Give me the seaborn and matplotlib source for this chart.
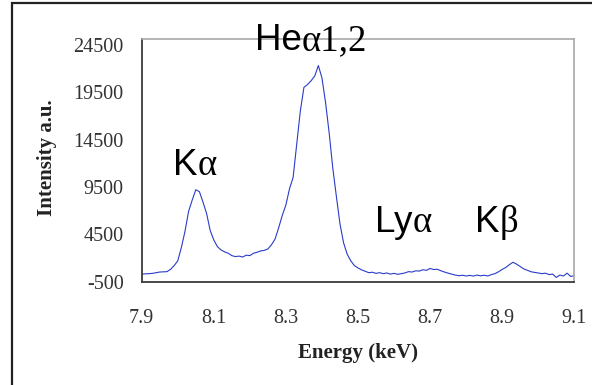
import numpy as np
import pandas as pd
import seaborn as sns
import matplotlib.pyplot as plt
from matplotlib.patches import Rectangle

# spectrum (keV, counts)
energy = [7.90, 7.91, 7.92, 7.93, 7.94, 7.95, 7.96, 7.97, 7.98, 7.99,
          8.00, 8.01, 8.02, 8.03, 8.04, 8.05, 8.06, 8.07, 8.08, 8.09,
          8.10, 8.11, 8.12, 8.13, 8.14, 8.15, 8.16, 8.17, 8.18, 8.19,
          8.20, 8.21, 8.22, 8.23, 8.24, 8.25, 8.26, 8.27, 8.28, 8.29,
          8.30, 8.31, 8.32, 8.33, 8.34, 8.35, 8.36, 8.37, 8.38, 8.39,
          8.40, 8.41, 8.42, 8.43, 8.44, 8.45, 8.46, 8.47, 8.48, 8.49,
          8.50, 8.51, 8.52, 8.53, 8.54, 8.55, 8.56, 8.57, 8.58, 8.59,
          8.60, 8.61, 8.62, 8.63, 8.64, 8.65, 8.66, 8.67, 8.68, 8.69,
          8.70, 8.71, 8.72, 8.73, 8.74, 8.75, 8.76, 8.77, 8.78, 8.79,
          8.80, 8.81, 8.82, 8.83, 8.84, 8.85, 8.86, 8.87, 8.88, 8.89,
          8.90, 8.91, 8.92, 8.93, 8.94, 8.95, 8.96, 8.97, 8.98, 8.99,
          9.00, 9.01, 9.02, 9.03, 9.04, 9.05, 9.06, 9.07, 9.08, 9.09,
          9.10]
intensity = [300, 330, 350, 380, 450, 520, 540, 560, 800, 1200,
             1700, 3100, 4800, 6900, 8100, 9200, 9000, 7900, 6700, 4900,
             3900, 3200, 2850, 2650, 2500, 2250, 2150, 2200, 2100, 2300,
             2250, 2500, 2600, 2750, 2800, 2950, 3400, 4000, 5200, 6500,
             7600, 9300, 10500, 14000, 17500, 20000, 20300, 20700, 21200, 22300,
             21000, 18400, 15200, 11500, 8500, 5600, 3600, 2400, 1700, 1200,
             950, 750, 600, 450, 500, 380, 450, 350, 420, 300,
             380, 280, 350, 420, 560, 520, 650, 620, 760, 700,
             900, 780, 820, 650, 520, 400, 300, 200, 130, 180,
             100, 170, 90, 200, 120, 180, 100, 250, 350, 550,
             800, 1000, 1300, 1550, 1350, 1100, 850, 700, 550, 480,
             420, 350, 400, 250, 300, -50, 200, 100, 400, 50,
             150]

xticks = [7.9, 8.1, 8.3, 8.5, 8.7, 8.9, 9.1]
xticklabels = ['7.9', '8.1', '8.3', '8.5', '8.7', '8.9', '9.1']
yticks = [-500, 4500, 9500, 14500, 19500, 24500]
yticklabels = ['-500', '4500', '9500', '14500', '19500', '24500']

df = pd.DataFrame({'Energy': energy, 'Intensity': intensity})

sns.set_style('white')
plt.rcParams['font.family'] = ['Liberation Serif', 'DejaVu Serif']

W, H = 592, 385
fig = plt.figure(figsize=(W / 100, H / 100), dpi=100)
ax = fig.add_axes([141.7 / W, 1 - 281.7 / H, 432.6 / W, 242.4 / H])

sns.lineplot(data=df, x='Energy', y='Intensity', ax=ax, color='#2a3cc8', lw=0.8)

ax.set_xlim(7.9, 9.1)
ax.set_ylim(-500, 25070)
ax.set_xticks(xticks)
ax.set_xticklabels(xticklabels)
ax.set_yticks(yticks)
ax.set_yticklabels(yticklabels)
ax.tick_params(axis='both', direction='out', color='#333333', labelcolor='#333333',
               labelsize=14.5, width=1)
ax.tick_params(axis='x', length=5, pad=15)
ax.tick_params(axis='y', length=6, pad=7)

for s in ['left', 'bottom']:
    ax.spines[s].set_color('#3a3a3a')
    ax.spines[s].set_linewidth(1.3)
for s in ['top', 'right']:
    ax.spines[s].set_color('#a8a8a8')
    ax.spines[s].set_linewidth(1.2)

ax.set_xlabel('Energy (keV)', fontsize=15, fontweight='bold', color='#222222', va='center')
ax.set_ylabel('Intensity a.u.', fontsize=15, fontweight='bold', color='#222222',
              va='center', ha='center')
ax.xaxis.set_label_coords(0.5, -(353 - 281.7) / 242.4)
ax.yaxis.set_label_coords((47 - 141.7) / 432.6, (281.7 - 158) / 242.4)

# outer frame, cut by the image edge
fig.patches.append(Rectangle((12 / W, -0.1), 1.2, 1 - 3 / H + 0.1, transform=fig.transFigure,
                             fill=False, edgecolor='#222222', lw=1.6, clip_on=False))

# peak labels: sans letters, serif greek and digits
fig.canvas.draw()
renderer = fig.canvas.get_renderer()


def label(x_px, base_px, parts):
    x = x_px
    for txt, fam in parts:
        t = fig.text(x / W, 1 - base_px / H, txt, fontsize=26.5, family=fam,
                     va='baseline', ha='left', color='black')
        x += t.get_window_extent(renderer).width


label(172.7, 175, [('K', 'Liberation Sans'), ('\u03b1', 'Liberation Serif')])
label(255, 50, [('He', 'Liberation Sans'), ('\u03b11,2', 'Liberation Serif')])
label(375, 232.3, [('Ly', 'Liberation Sans'), ('\u03b1', 'Liberation Serif')])
label(475, 232.3, [('K', 'Liberation Sans'), ('\u03b2', 'Liberation Serif')])

fig.savefig('out.png', dpi=100)
